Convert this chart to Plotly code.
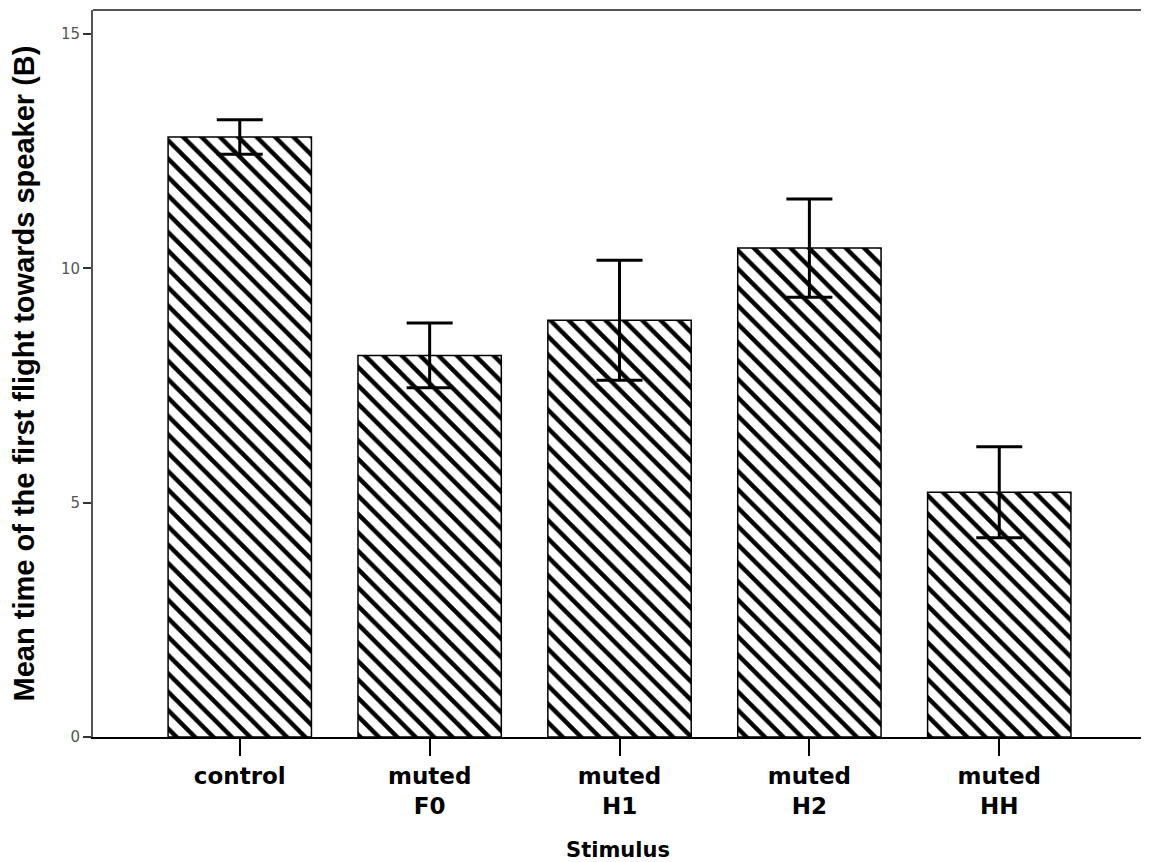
import plotly.graph_objects as go

# данные столбцов
stimulus = ["control", "muted<br>F0", "muted<br>H1", "muted<br>H2", "muted<br>HH"]
mean_time = [12.80, 8.14, 8.89, 10.43, 5.22]
err = [0.37, 0.69, 1.28, 1.05, 0.97]
y_ticks = [0, 5, 10, 15]
y_ticktext = ["0", "5", "10", "15"]

fig = go.Figure(go.Bar(
    x=list(range(len(stimulus))),
    y=mean_time,
    width=0.755,
    marker=dict(
        color="white",
        line=dict(color="black", width=1.5),
        pattern=dict(shape="\\", size=13, solidity=0.34,
                     fgcolor="black", bgcolor="white", fgopacity=1),
    ),
    error_y=dict(type="data", array=err, color="black",
                 thickness=3, width=23),
))

# страница имеет отступ body 8px, поэтому фигура чуть меньше окна
fig.update_layout(
    width=1141, height=854,
    margin=dict(l=85, r=6, t=2, b=125),
    plot_bgcolor="white", paper_bgcolor="white",
    showlegend=False,
    font=dict(family="Liberation Sans, Arial, sans-serif", color="black"),
)

fig.update_xaxes(
    range=[-0.773, 4.757],
    automargin=False,
    tickvals=list(range(len(stimulus))),
    ticktext=["<b>%s</b>" % s for s in stimulus],
    tickfont=dict(size=23, family="DejaVu Sans"),
    ticks="outside", ticklen=17, tickwidth=1.5, tickcolor="black",
    showline=True, linecolor="black", linewidth=2,
    showgrid=False, zeroline=False,
    title=dict(text="<b>Stimulus</b>", font=dict(size=21, family="DejaVu Sans"),
               standoff=25),
)

fig.update_yaxes(
    range=[0, 15.51],
    automargin=False,
    tickvals=y_ticks, ticktext=y_ticktext,
    tickfont=dict(size=15, color="#555555", family="DejaVu Sans"),
    ticks="outside", ticklen=8, tickwidth=1.5, tickcolor="#333333",
    showline=True, linecolor="#555555", linewidth=2, mirror=True,
    showgrid=False, zeroline=False,
    title=dict(text="<b>Mean time of the first flight towards speaker (B)</b>",
               font=dict(size=29), standoff=26),
)

# верхняя граница рамки (серая)
fig.add_shape(type="line", xref="paper", yref="paper", x0=0, x1=1, y0=1, y1=1,
              line=dict(color="#555555", width=2))

fig.write_html("out.html")
